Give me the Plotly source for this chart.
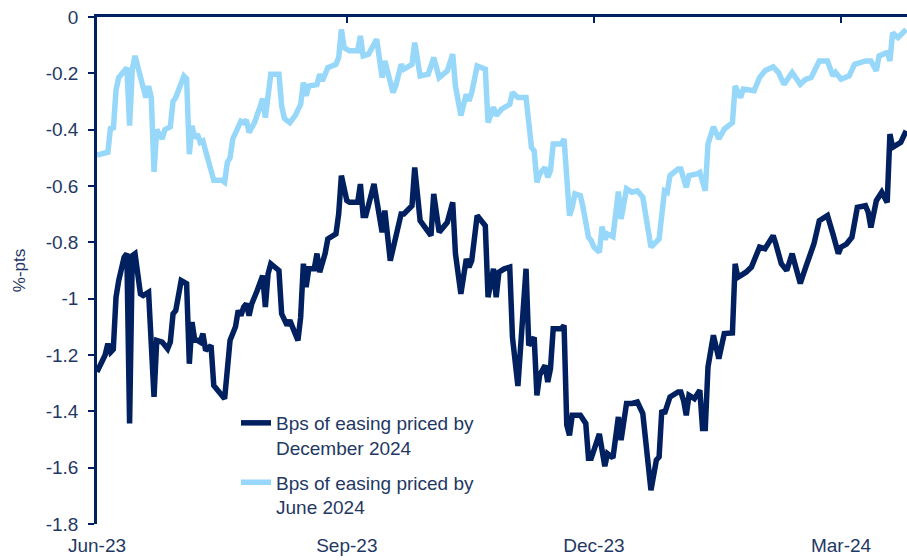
import plotly.graph_objects as go

# ---------------- data ----------------
dec24_dates = [
    "2023-06-01","2023-06-04","2023-06-05","2023-06-06","2023-06-07","2023-06-08","2023-06-09","2023-06-11","2023-06-12","2023-06-13","2023-06-14","2023-06-15","2023-06-17","2023-06-18","2023-06-20","2023-06-22","2023-06-23","2023-06-25","2023-06-27","2023-06-28","2023-06-29","2023-06-30",
    "2023-07-02","2023-07-04","2023-07-05","2023-07-06","2023-07-07","2023-07-08","2023-07-09","2023-07-10","2023-07-11","2023-07-13","2023-07-14","2023-07-15","2023-07-18","2023-07-20","2023-07-22","2023-07-23","2023-07-24","2023-07-25","2023-07-26","2023-07-27","2023-07-28","2023-07-30",
    "2023-08-01","2023-08-02","2023-08-03","2023-08-04","2023-08-07","2023-08-08","2023-08-10","2023-08-11","2023-08-12","2023-08-14","2023-08-15","2023-08-16","2023-08-17","2023-08-18","2023-08-20","2023-08-21","2023-08-22","2023-08-24","2023-08-25","2023-08-28","2023-08-29","2023-08-30",
    "2023-09-01","2023-09-02","2023-09-05","2023-09-06","2023-09-07","2023-09-08","2023-09-11","2023-09-14","2023-09-15","2023-09-17","2023-09-21","2023-09-22","2023-09-25","2023-09-26","2023-09-28",
    "2023-10-02","2023-10-03","2023-10-05","2023-10-08","2023-10-10","2023-10-11","2023-10-13","2023-10-15","2023-10-16","2023-10-17","2023-10-19","2023-10-22","2023-10-23","2023-10-25","2023-10-26","2023-10-27","2023-10-29","2023-10-31",
    "2023-11-01","2023-11-03","2023-11-06","2023-11-07","2023-11-09","2023-11-10","2023-11-11","2023-11-13","2023-11-14","2023-11-15","2023-11-16","2023-11-19","2023-11-20","2023-11-21","2023-11-22","2023-11-23","2023-11-26","2023-11-28","2023-11-29","2023-11-30",
    "2023-12-03","2023-12-05","2023-12-06","2023-12-08","2023-12-10","2023-12-11","2023-12-13","2023-12-15","2023-12-17","2023-12-19","2023-12-22","2023-12-24","2023-12-25","2023-12-26","2023-12-27","2023-12-29",
    "2024-01-01","2024-01-02","2024-01-03","2024-01-04","2024-01-05","2024-01-07","2024-01-09","2024-01-10","2024-01-11","2024-01-12","2024-01-13","2024-01-14","2024-01-16","2024-01-18","2024-01-21","2024-01-22","2024-01-23","2024-01-25","2024-01-26","2024-01-28","2024-01-31",
    "2024-02-02","2024-02-05","2024-02-06","2024-02-08","2024-02-10","2024-02-12","2024-02-13","2024-02-15","2024-02-17","2024-02-20","2024-02-22","2024-02-25","2024-02-27","2024-02-29",
    "2024-03-01","2024-03-03","2024-03-05","2024-03-07","2024-03-10","2024-03-11","2024-03-12","2024-03-14","2024-03-16","2024-03-18","2024-03-19","2024-03-20","2024-03-23","2024-03-25",
]
dec24_values = [
    -1.26,-1.20,-1.16,-1.19,-1.18,-0.995,-0.936,-0.853,-0.84,-1.443,-0.847,-0.84,-0.983,-0.989,-0.977,-1.349,-1.148,-1.154,-1.178,-1.154,-1.054,-1.042,
    -0.936,-0.947,-1.231,-1.083,-1.148,-1.148,-1.154,-1.124,-1.184,-1.166,-1.308,-1.32,-1.355,-1.148,-1.10,-1.042,-1.06,-1.03,-1.018,-1.06,-1.018,-0.971,
    -0.918,-1.03,-0.912,-0.876,-0.90,-1.054,-1.095,-1.077,-1.10,-1.148,-1.066,-0.876,-0.959,-0.894,-0.894,-0.84,-0.906,-0.84,-0.788,-0.77,-0.699,-0.563,
    -0.652,-0.658,-0.658,-0.593,-0.705,-0.705,-0.593,-0.764,-0.687,-0.865,-0.699,-0.699,-0.67,-0.534,-0.723,
    -0.776,-0.628,-0.764,-0.729,-0.658,-0.84,-0.983,-0.859,-0.888,-0.865,-0.705,-0.741,-0.995,-0.894,-0.995,-0.906,-0.894,-0.888,
    -1.137,-1.31,-0.894,-1.166,-1.137,-1.343,-1.272,-1.237,-1.296,-1.248,-1.107,-1.107,-1.095,-1.449,-1.485,-1.414,-1.414,-1.443,-1.567,-1.567,
    -1.48,-1.595,-1.55,-1.565,-1.42,-1.502,-1.372,-1.372,-1.367,-1.408,-1.68,-1.573,-1.562,-1.396,-1.408,-1.349,
    -1.331,-1.331,-1.361,-1.414,-1.343,-1.355,-1.325,-1.461,-1.461,-1.243,-1.184,-1.13,-1.213,-1.124,-1.122,-0.876,-0.924,-0.912,-0.906,-0.888,-0.817,
    -0.823,-0.776,-0.806,-0.876,-0.90,-0.84,-0.876,-0.946,-0.888,-0.806,-0.723,-0.705,-0.77,-0.84,
    -0.817,-0.806,-0.782,-0.676,-0.67,-0.693,-0.747,-0.652,-0.622,-0.658,-0.416,-0.463,-0.445,-0.404,
]

jun24_dates = [
    "2023-06-01","2023-06-05","2023-06-06","2023-06-07","2023-06-08","2023-06-09","2023-06-12","2023-06-13","2023-06-14","2023-06-15","2023-06-18","2023-06-19","2023-06-20","2023-06-21","2023-06-22","2023-06-23","2023-06-25","2023-06-26","2023-06-28","2023-06-29","2023-06-30",
    "2023-07-03","2023-07-04","2023-07-05","2023-07-06","2023-07-07","2023-07-08","2023-07-09","2023-07-10","2023-07-11","2023-07-12","2023-07-14","2023-07-17","2023-07-18","2023-07-19","2023-07-20","2023-07-21","2023-07-24","2023-07-25","2023-07-26","2023-07-27","2023-07-29","2023-07-31",
    "2023-08-01","2023-08-02","2023-08-03","2023-08-04","2023-08-07","2023-08-08","2023-08-09","2023-08-11","2023-08-13","2023-08-15","2023-08-16","2023-08-17","2023-08-18","2023-08-21","2023-08-22","2023-08-23","2023-08-24","2023-08-25","2023-08-28","2023-08-29","2023-08-30","2023-08-31",
    "2023-09-01","2023-09-02","2023-09-05","2023-09-06","2023-09-07","2023-09-09","2023-09-12","2023-09-14","2023-09-15","2023-09-18","2023-09-19","2023-09-21","2023-09-22","2023-09-25","2023-09-26","2023-09-28",
    "2023-10-01","2023-10-03","2023-10-05","2023-10-08","2023-10-10","2023-10-11","2023-10-13","2023-10-15","2023-10-16","2023-10-17","2023-10-19","2023-10-22","2023-10-23","2023-10-25","2023-10-26","2023-10-28","2023-10-31",
    "2023-11-01","2023-11-03","2023-11-06","2023-11-08","2023-11-09","2023-11-10","2023-11-11","2023-11-13","2023-11-14","2023-11-15","2023-11-16","2023-11-19","2023-11-20","2023-11-22","2023-11-23","2023-11-24","2023-11-26","2023-11-27","2023-11-29","2023-11-30",
    "2023-12-01","2023-12-03","2023-12-04","2023-12-05","2023-12-06","2023-12-08","2023-12-10","2023-12-11","2023-12-13","2023-12-15","2023-12-17","2023-12-19","2023-12-22","2023-12-25","2023-12-27","2023-12-28","2023-12-29",
    "2024-01-01","2024-01-02","2024-01-04","2024-01-05","2024-01-08","2024-01-09","2024-01-11","2024-01-12","2024-01-14","2024-01-16","2024-01-18","2024-01-21","2024-01-22","2024-01-24","2024-01-25","2024-01-29","2024-01-31",
    "2024-02-02","2024-02-05","2024-02-07","2024-02-09","2024-02-12","2024-02-15","2024-02-17","2024-02-19","2024-02-22","2024-02-25","2024-02-27","2024-02-28",
    "2024-03-01","2024-03-04","2024-03-06","2024-03-10","2024-03-12","2024-03-14","2024-03-15","2024-03-18","2024-03-19","2024-03-20","2024-03-22","2024-03-25",
]
jun24_values = [
    -0.49,-0.48,-0.39,-0.40,-0.26,-0.215,-0.18,-0.386,-0.185,-0.138,-0.25,-0.286,-0.245,-0.286,-0.55,-0.40,-0.433,-0.40,-0.39,-0.30,-0.286,
    -0.21,-0.22,-0.487,-0.386,-0.43,-0.416,-0.445,-0.44,-0.48,-0.505,-0.58,-0.58,-0.587,-0.516,-0.50,-0.433,-0.37,-0.375,-0.366,-0.41,-0.375,-0.32,
    -0.29,-0.357,-0.286,-0.203,-0.203,-0.315,-0.36,-0.375,-0.35,-0.31,-0.233,-0.28,-0.245,-0.24,-0.203,-0.227,-0.203,-0.18,-0.168,-0.144,-0.044,-0.109,
    -0.115,-0.12,-0.12,-0.067,-0.138,-0.132,-0.079,-0.215,-0.156,-0.268,-0.245,-0.168,-0.185,-0.168,-0.091,-0.209,
    -0.203,-0.144,-0.215,-0.191,-0.132,-0.245,-0.35,-0.274,-0.298,-0.268,-0.174,-0.185,-0.375,-0.32,-0.35,-0.327,-0.31,
    -0.268,-0.286,-0.286,-0.463,-0.475,-0.587,-0.557,-0.534,-0.569,-0.546,-0.451,-0.451,-0.433,-0.705,-0.676,-0.628,-0.634,-0.676,-0.782,-0.794,
    -0.817,-0.835,-0.744,-0.79,-0.77,-0.78,-0.62,-0.717,-0.61,-0.622,-0.617,-0.64,-0.817,-0.788,-0.617,-0.622,-0.563,
    -0.54,-0.54,-0.605,-0.563,-0.557,-0.552,-0.617,-0.451,-0.39,-0.433,-0.398,-0.375,-0.245,-0.286,-0.256,-0.262,-0.215,
    -0.191,-0.177,-0.197,-0.239,-0.197,-0.239,-0.221,-0.215,-0.156,-0.156,-0.209,-0.197,
    -0.221,-0.209,-0.168,-0.156,-0.156,-0.191,-0.138,-0.126,-0.156,-0.056,-0.073,-0.044,
]

series_names = ["Bps of easing priced by<br>December 2024", "Bps of easing priced by<br>June 2024"]

y_tick_values = [0, -0.2, -0.4, -0.6, -0.8, -1.0, -1.2, -1.4, -1.6, -1.8]
y_tick_labels = ["0", "-0.2", "-0.4", "-0.6", "-0.8", "-1", "-1.2", "-1.4", "-1.6", "-1.8"]
x_tick_dates = ["2023-06-01", "2023-09-01", "2023-12-01", "2024-03-01"]
x_tick_labels = ["Jun-23", "Sep-23", "Dec-23", "Mar-24"]
x_range = ["2023-06-01", "2024-03-25 07:00"]
y_range = [-1.8, 0]

# ---------------- style ----------------
NAVY = "#002060"
LIGHT = "#97D8FA"
TEXT = "#1F3864"
FONT = "Arial, Liberation Sans, sans-serif"

fig = go.Figure()
fig.add_trace(go.Scatter(x=dec24_dates, y=dec24_values, mode="lines", name=series_names[0],
                         legendgroup="dec", line=dict(color=NAVY, width=5.5)))
fig.add_trace(go.Scatter(x=jun24_dates, y=jun24_values, mode="lines", name=series_names[1],
                         legendgroup="jun", line=dict(color=LIGHT, width=5.5)))
# helper trace so the top (zero-line) axis is drawn
fig.add_trace(go.Scatter(x=[x_tick_dates[0]], y=[None], xaxis="x2", showlegend=False,
                         hoverinfo="skip", mode="lines"))

fig.update_layout(
    width=907, height=560,
    margin=dict(l=97, r=0, t=17, b=36),
    paper_bgcolor="white", plot_bgcolor="white",
    font=dict(family=FONT, color=TEXT, size=19),
    showlegend=True,
    legend=dict(x=(236 - 97) / 810, y=(524 - 404) / 507, xanchor="left", yanchor="top",
                bgcolor="rgba(0,0,0,0)", font=dict(size=19, color=TEXT),
                valign="top", tracegroupgap=7),
    xaxis=dict(type="date", range=x_range, tickmode="array", tickvals=x_tick_dates,
               ticktext=x_tick_labels, ticks="", showline=False, showgrid=False,
               zeroline=False, ticklabelstandoff=8, automargin=False,
               ticklabeloverflow="allow", tickfont=dict(size=19, color=TEXT)),
    xaxis2=dict(type="date", range=x_range, overlaying="x", side="top", anchor="y",
                tickmode="array", tickvals=x_tick_dates, ticks="inside", ticklen=6,
                tickwidth=2, tickcolor=NAVY, showticklabels=False, showline=True,
                linecolor=NAVY, linewidth=2.5, showgrid=False, zeroline=False,
                automargin=False),
    yaxis=dict(range=y_range, tickmode="array", tickvals=y_tick_values, ticktext=y_tick_labels,
               ticks="outside", ticklen=6, tickwidth=2, tickcolor=NAVY,
               showline=True, linecolor=NAVY, linewidth=2.5, showgrid=False, zeroline=False,
               ticklabelstandoff=6, automargin=False, ticklabeloverflow="allow",
               tickfont=dict(size=19, color=TEXT),
               title=dict(text="%-pts", font=dict(size=17, color=TEXT), standoff=16)),
)

# remove the default 8px page margin so the figure fills the window exactly
fig.write_html("out.html", config={"displayModeBar": False},
               post_script="document.body.style.margin='0';")
